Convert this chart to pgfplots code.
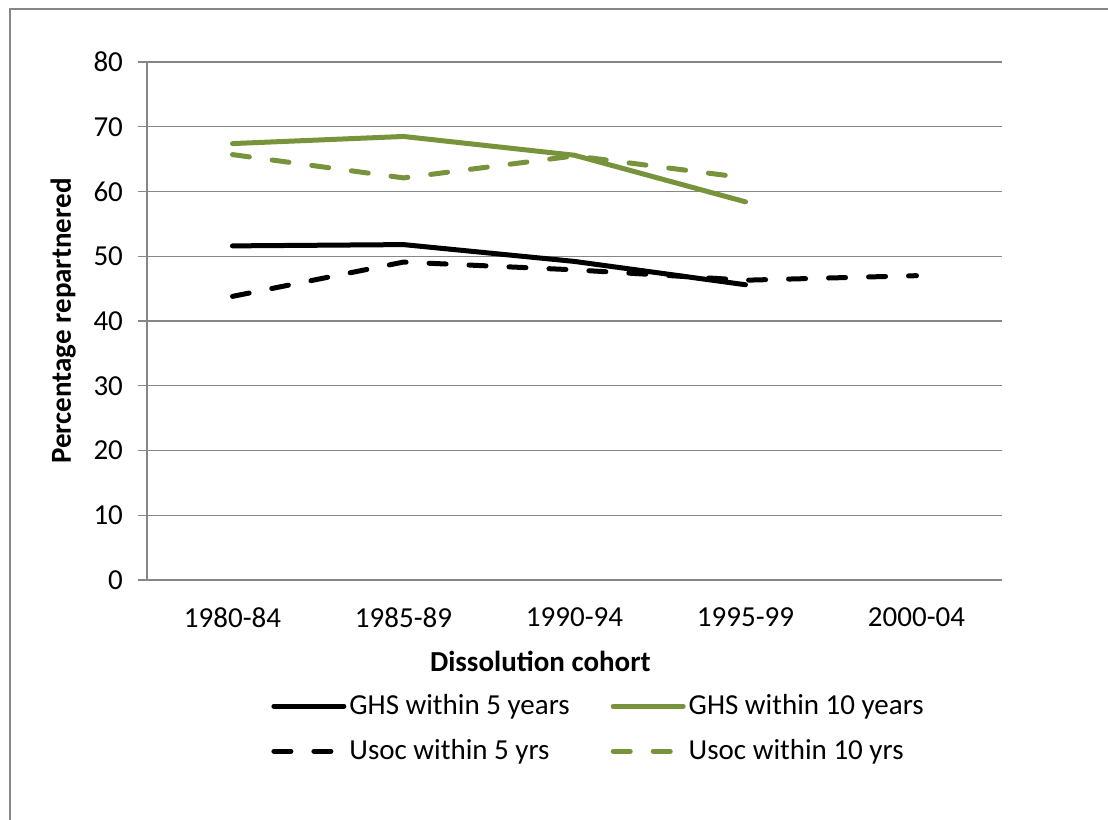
\documentclass[border=0pt]{standalone}
\usepackage{fontspec}
\setmainfont{Carlito}
\usepackage{pgfplots}
\pgfplotsset{compat=1.18}
\definecolor{olive}{RGB}{119,147,60}
\definecolor{gridgray}{RGB}{134,134,134}
\begin{document}
\begin{tikzpicture}
\useasboundingbox (0,0) rectangle (554pt,-409.5pt);
\draw[gridgray, line width=0.9pt] (5pt,-412pt) -- (5pt,-4.5pt) -- (560pt,-4.5pt);
\begin{axis}[
  at={(73.5pt,-31pt)}, anchor=north west,
  scale only axis, width=427.5pt, height=259pt,
  xmin=-0.5, xmax=4.5, ymin=0, ymax=80,
  xtick={0,1,2,3,4},
  xticklabels={1980-84,1985-89,1990-94,1995-99,2000-04},
  minor xtick={-0.5,0.5,1.5,2.5,3.5,4.5},
  ytick={0,10,...,80},
  axis x line*=bottom, axis y line*=left,
  axis line style={gridgray, line width=0.6pt, -},
  ymajorgrids, grid style={gridgray, line width=0.6pt},
  tick align=outside,
  x tick style={draw=none},
  minor x tick style={gridgray, line width=0.6pt},
  minor tick length=4.5pt,
  y tick style={gridgray, line width=0.6pt},
  major tick length=4.5pt,
  tick label style={font=\fontsize{14.5}{17}\selectfont, text=black},
  /pgf/number format/assume math mode=true,
  xticklabel style={yshift=-6pt},
  yticklabel style={xshift=-4pt},
  ylabel={\bfseries Percentage repartnered},
  ylabel style={font=\fontsize{14.5}{17}\selectfont, at={(ticklabel cs:0.5)}, yshift=2pt},
  legend columns=2,
  legend cell align=left,
  legend style={draw=none, fill=none, font=\fontsize{14.5}{17}\selectfont,
    at={(0.138,-0.205)}, anchor=north west, row sep=7pt,
    nodes={inner xsep=1.5pt},
    /tikz/every even column/.append style={column sep=19pt}},
  legend image code/.code={\draw[#1] (0pt,0pt) -- (35pt,0pt);},
  every axis plot/.append style={line width=2.5pt, line cap=round, line join=round},
  clip=false,
]
\addplot[black] coordinates {(0,51.6) (1,51.8) (2,49.2) (3,45.6)};
\addlegendentry{GHS within 5 years}
\addplot[olive] coordinates {(0,67.4) (1,68.5) (2,65.6) (3,58.4)};
\addlegendentry{GHS within 10 years}
\addplot[black, dash pattern=on 8.5pt off 11.5pt] coordinates {(0,43.8) (1,49.1) (2,47.9) (3,46.3) (4,47.0)};
\addlegendentry{Usoc within 5 yrs}
\addplot[olive, dash pattern=on 8.5pt off 11.5pt] coordinates {(0,65.7) (1,62.1) (2,65.5) (3,62.1)};
\addlegendentry{Usoc within 10 yrs}
\node[font=\fontsize{14.5}{17}\selectfont\bfseries, anchor=center] at (axis cs:1.8,-12.6) {Dissolution cohort};
\end{axis}
\end{tikzpicture}
\end{document}
